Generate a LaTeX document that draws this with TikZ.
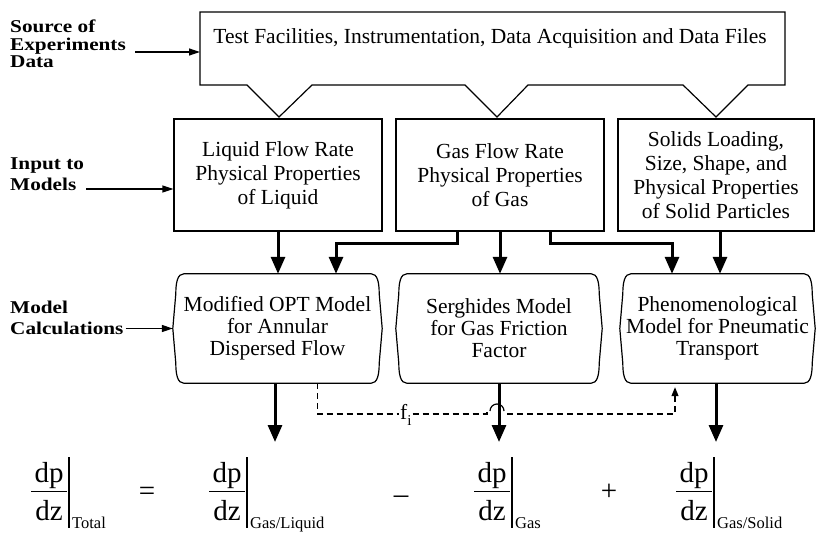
\documentclass[tikz,border=0pt]{standalone}
\usepackage{fontspec}
\setmainfont{Liberation Serif}
\newfontfamily\lblfont{Liberation Serif}[FakeStretch=1.18]
\usetikzlibrary{arrows.meta}
\newcommand\dpdzterm[3]{%
  \node[eqtxt] (#1n) at (#2,482) {dp};
  \node[eqtxt] (#1d) at (#2,520) {dz};
  \draw[line width=1pt] ({#2-18},491) -- ({#2+18},491);
  \draw[line width=1.2pt] ({#2+20},457) -- ({#2+20},528);
  \node[subtxt] (#1s) at ({#2+23},528) {#3};
}
\begin{document}
\begin{tikzpicture}[x=1pt,y=-1pt,
  box/.style={draw,line width=1.2pt,align=center,font=\fontsize{21.5}{24}\selectfont,inner sep=0pt},
  thinline/.style={line width=1.2pt},
  thickarr/.style={line width=3pt,line join=miter,-{Triangle[width=14pt,length=17pt]}},
  lblarr/.style={line width=1.2pt,-{Triangle[width=7pt,length=11pt]}},
  lbl/.style={font=\lblfont\bfseries\fontsize{18}{21}\selectfont,align=left,inner sep=0pt},
  dsh/.style={line width=1.2pt,dash pattern=on 6pt off 4pt},
  eqtxt/.style={font=\fontsize{29}{29}\selectfont,inner sep=0pt,anchor=base},
  subtxt/.style={font=\fontsize{16.5}{16.5}\selectfont,inner sep=0pt,anchor=base west},
  modtxt/.style={align=center,font=\fontsize{21.5}{22}\selectfont,inner sep=0pt}
]
\useasboundingbox (0,0) rectangle (818,532);

% top callout
\draw[thinline,line join=miter] (200,12) -- (785,12) -- (785,85) -- (748,85) -- (716,117) -- (683,85)
  -- (528,85) -- (497,117) -- (465,85) -- (312,85) -- (279,117) -- (247,85) -- (200,85) -- cycle;
\node[font=\fontsize{21.5}{24}\selectfont,inner sep=0pt] (top) at (490,38) {Test Facilities, Instrumentation, Data Acquisition and Data Files};
\coordinate (topL) at (200,52);

% input boxes
\node[box,minimum width=208pt,minimum height=112pt] (in1) at (278,175) {Liquid Flow Rate\\Physical Properties\\of Liquid};
\node[box,minimum width=208pt,minimum height=112pt] (in2) at (500,175) {Gas Flow Rate\\Physical Properties\\of Gas};
\node[box,minimum width=196pt,minimum height=112pt] (in3) at (716,175) {Solids Loading,\\Size, Shape, and\\Physical Properties\\of Solid Particles};

% models
\node[modtxt,minimum width=209pt,minimum height=109pt] (m1) at (277.5,328.5) {Modified OPT Model\\for Annular\\Dispersed Flow};
\node[modtxt,minimum width=206pt,minimum height=109pt] (m2) at (499,328.5) {Serghides Model\\for Gas Friction\\Factor};
\node[modtxt,minimum width=195pt,minimum height=109pt] (m3) at (717.5,328.5) {Phenomenological\\Model for Pneumatic\\Transport};
\foreach \n in {m1,m2,m3}{
 \draw[thinline] ([xshift=11pt]\n.north west) -- ([xshift=-11pt]\n.north east)
   .. controls ([xshift=-5pt]\n.north east) and ([xshift=-3pt,yshift=-8pt]\n.north east) .. ([xshift=-3pt,yshift=-20pt]\n.north east)
   -- (\n.east) -- ([xshift=-3pt,yshift=20pt]\n.south east)
   .. controls ([xshift=-3pt,yshift=8pt]\n.south east) and ([xshift=-5pt]\n.south east) .. ([xshift=-11pt]\n.south east)
   -- ([xshift=11pt]\n.south west)
   .. controls ([xshift=5pt]\n.south west) and ([xshift=3pt,yshift=8pt]\n.south west) .. ([xshift=3pt,yshift=20pt]\n.south west)
   -- (\n.west) -- ([xshift=3pt,yshift=-20pt]\n.north west)
   .. controls ([xshift=3pt,yshift=-8pt]\n.north west) and ([xshift=5pt]\n.north west) .. cycle;
}

% input -> model connectors
\draw[thickarr] (in1.south) -- (in1.south |- m1.north);
\draw[thickarr] ([xshift=-43pt]in2.south) -- ++(0,12) -| ([xshift=58.5pt]m1.north);
\draw[thickarr] (in2.south) -- (in2.south |- m2.north);
\draw[thickarr] ([xshift=50pt]in2.south) -- ++(0,12) -| ([xshift=-45.5pt]m3.north);
\draw[thickarr] ([xshift=4pt]in3.south) -- ([xshift=4pt]in3.south |- m3.north);

% left labels
\node[lbl,font=\lblfont\bfseries\fontsize{18}{17.5}\selectfont,anchor=north west] (src) at (10,20) {Source of\\Experiments\\Data};
\draw[lblarr] ([xshift=9pt]src.east |- topL) -- (topL);
\node[lbl,anchor=north west] (inp) at (10,158) {Input to\\Models};
\coordinate (inw) at ([yshift=-14pt]in1.west);
\draw[lblarr] ([xshift=2pt]inp.east |- inw) -- (inw);
\node[lbl,anchor=north west] (calc) at (10,301) {Model\\Calculations};
\draw[lblarr] ([xshift=2pt]calc.east |- m1.west) -- (m1.west);

% equation
\coordinate (eqtop) at (0,442);
\dpdzterm{t1}{49}{Total}
\node[eqtxt] (eqs) at (147,500) {=};
\dpdzterm{t2}{227}{Gas/Liquid}
\node[eqtxt] (minus) at (401,503) {–};
\dpdzterm{t3}{492}{Gas}
\node[eqtxt] (plus) at (609,500) {+};
\dpdzterm{t4}{694}{Gas/Solid}

% model -> equation
\draw[thickarr] ([xshift=-2.5pt]m1.south) -- ([xshift=-2.5pt]m1.south |- eqtop);
\draw[thickarr] (m2.south) -- (m2.south |- eqtop);
\draw[thickarr] ([xshift=-1.5pt]m3.south) -- ([xshift=-1.5pt]m3.south |- eqtop);

% interfacial friction factor (dashed)
\coordinate (dl) at (0,414);
\coordinate (jL) at (487,414);
\coordinate (jR) at (507,414);
\node[font=\fontsize{21.5}{21}\selectfont,inner sep=1pt,anchor=base west] (fi) at (399,419) {f\raisebox{-6pt}{\fontsize{15}{15}\selectfont i}};
\draw[dsh] ([xshift=40pt]m1.south) |- (fi.west |- dl);
\draw[dsh] (fi.east |- dl) -- (jL) -- ++(0,-3);
\draw[thinline] ([shift={(3,-3)}]jL) arc[start angle=-180,end angle=0,radius=7];
\draw[dsh,-{Triangle[width=7pt,length=9pt]}] (jR) -- ([xshift=-42.5pt]m3.south |- jR) -- ([xshift=-42.5pt,yshift=-4pt]m3.south);
\end{tikzpicture}
\end{document}
